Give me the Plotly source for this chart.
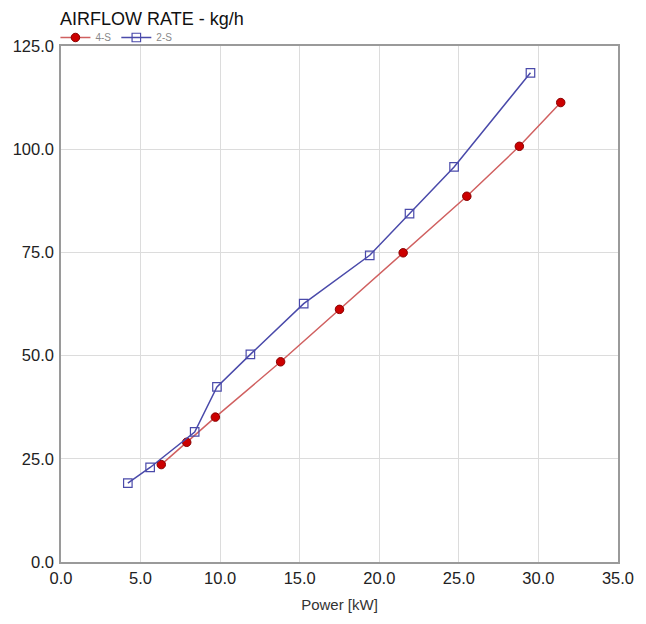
import plotly.graph_objects as go

x_4s = [6.3, 7.9, 9.7, 13.8, 17.5, 21.5, 25.5, 28.8, 31.4]
y_4s = [23.6, 29.0, 35.1, 48.5, 61.2, 74.9, 88.6, 100.7, 111.3]

x_2s = [4.2, 5.6, 8.4, 9.8, 11.9, 15.25, 19.4, 21.9, 24.7, 29.5]
y_2s = [19.1, 22.9, 31.5, 42.4, 50.3, 62.6, 74.3, 84.4, 95.7, 118.5]

x_ticks = [0, 5, 10, 15, 20, 25, 30, 35]
y_ticks = [0, 25, 50, 75, 100, 125]

FONT = "Liberation Sans, Arial, sans-serif"

fig = go.Figure()
fig.add_trace(go.Scatter(
    x=x_4s, y=y_4s, name="4-S", mode="lines+markers",
    line=dict(color="#d06060", width=1.5),
    marker=dict(symbol="circle", size=8.5, color="#cc0000",
                line=dict(color="#8a0000", width=1)),
))
fig.add_trace(go.Scatter(
    x=x_2s, y=y_2s, name="2-S", mode="lines+markers",
    line=dict(color="#4a4aaa", width=1.5),
    marker=dict(symbol="square-open", size=8.5, color="#4a4aaa",
                line=dict(width=1.2)),
))

axis_common = dict(
    showline=True, linecolor="#9a9a9a", linewidth=1.5, mirror=True,
    showgrid=True, gridcolor="#dcdcdc", gridwidth=1,
    zeroline=False, ticks="",
    tickfont=dict(family=FONT, size=16.5, color="#222222"),
)

fig.update_xaxes(range=[0, 35], tickvals=x_ticks,
                 ticktext=[f"{v:.1f}" for v in x_ticks],
                 title=dict(text="Power [kW]", font=dict(family=FONT, size=15, color="#333333"), standoff=14),
                 **axis_common)
fig.update_yaxes(range=[0, 125], tickvals=y_ticks,
                 ticktext=[f"{v:.1f}" for v in y_ticks],
                 ticklabelstandoff=2,
                 **axis_common)

fig.update_layout(
    width=646, height=624,
    margin=dict(l=61, r=22, t=46, b=62),
    paper_bgcolor="white", plot_bgcolor="white",
    title=dict(text="AIRFLOW RATE - kg/h", x=0.093, xanchor="left", y=0.9705, yanchor="middle",
               font=dict(family=FONT, size=18, color="#111111")),
    legend=dict(orientation="h", x=-0.01, xanchor="left", y=1.0165, yanchor="middle",
                font=dict(family=FONT, size=10, color="#888888"),
                itemwidth=30, tracegroupgap=0, bgcolor="rgba(0,0,0,0)"),
    showlegend=True,
)

fig.write_html("out.html")
